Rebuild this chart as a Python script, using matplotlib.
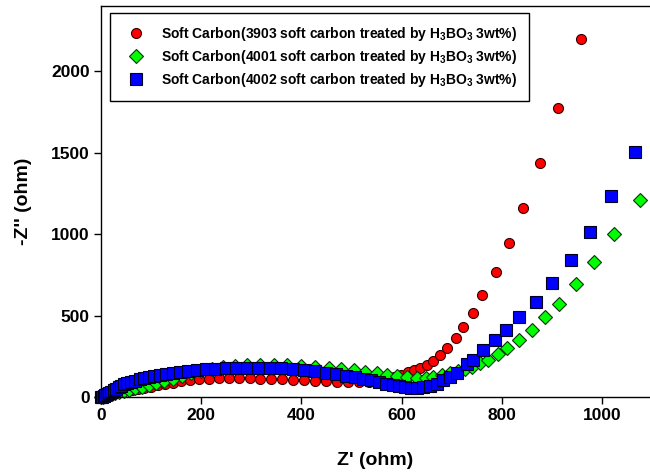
import matplotlib.pyplot as plt

plt.rcParams['font.family'] = ['Liberation Sans', 'DejaVu Sans']
plt.rcParams['mathtext.fontset'] = 'custom'
plt.rcParams['mathtext.rm'] = 'Liberation Sans:bold'
plt.rcParams['mathtext.it'] = 'Liberation Sans:bold'
plt.rcParams['mathtext.bf'] = 'Liberation Sans:bold'

# Z' / -Z'' values (ohm)
x_3903 = [0, 2, 4, 7, 10, 14, 19, 25, 32, 40, 50, 61, 73, 86, 100, 113, 128, 144,
          160, 178, 196, 215, 235, 255, 276, 297, 318, 340, 362, 384, 406, 428,
          450, 472, 494, 515, 535, 553, 570, 585, 598, 612, 625, 637, 650, 663,
          677, 691, 708, 723, 743, 761, 788, 814, 843, 876, 913, 958]
y_3903 = [0, 3, 6, 10, 14, 19, 24, 29, 33, 37, 41, 45, 50, 56, 63, 72, 80, 89,
          97, 104, 109, 112, 114, 115, 115, 114, 113, 111, 109, 107, 103, 100,
          97, 95, 93, 92, 94, 100, 108, 120, 135, 152, 166, 180, 196, 222,
          258, 302, 360, 427, 517, 626, 769, 943, 1162, 1434, 1773, 2196]

x_4001 = [0, 3, 6, 10, 15, 21, 28, 36, 45, 56, 68, 81, 95, 110, 126, 143, 161,
          180, 200, 221, 243, 267, 292, 318, 345, 372, 400, 428, 455, 480, 505,
          528, 550, 571, 590, 610, 630, 648, 663, 680, 697, 713, 727, 740, 756,
          773, 793, 811, 835, 860, 886, 915, 948, 985, 1025, 1076]
y_4001 = [0, 3, 7, 11, 16, 21, 26, 31, 38, 46, 55, 64, 74, 84, 98, 112, 128,
          145, 160, 173, 183, 190, 194, 196, 196, 195, 192, 187, 180, 172, 163,
          154, 146, 138, 130, 123, 119, 119, 122, 133, 145, 158, 172, 187, 206,
          230, 263, 299, 350, 411, 489, 573, 691, 830, 1000, 1210]

x_4002 = [0, 2, 5, 8, 12, 16, 20, 25, 30, 35, 40, 46, 52, 60, 68, 77, 86, 96,
          106, 118, 130, 144, 158, 174, 191, 209, 228, 249, 270, 292, 314, 337,
          360, 383, 406, 428, 450, 470, 489, 507, 524, 540, 555, 569, 582, 594,
          606, 618, 630, 643, 657, 670, 683, 697, 710, 730, 743, 763, 786, 808,
          835, 868, 900, 939, 977, 1019, 1066]
y_4002 = [0, 3, 7, 11, 16, 22, 30, 40, 50, 60, 70, 78, 86, 94, 101, 108, 115,
          121, 127, 133, 139, 145, 151, 158, 164, 169, 174, 178, 180, 181, 181,
          179, 175, 170, 164, 157, 149, 140, 131, 122, 112, 102, 92, 82, 73, 65,
          60, 58, 58, 61, 67, 82, 102, 125, 150, 200, 230, 290, 352, 411, 493,
          585, 697, 840, 1014, 1235, 1501]

labels = [r'Soft Carbon(3903 soft carbon treated by H$_3$BO$_3$ 3wt%)',
          r'Soft Carbon(4001 soft carbon treated by H$_3$BO$_3$ 3wt%)',
          r'Soft Carbon(4002 soft carbon treated by H$_3$BO$_3$ 3wt%)']

fig = plt.figure(figsize=(6.5, 4.72), dpi=100)
ax = fig.add_axes([101 / 650, 75 / 472, 549 / 650, 391 / 472])

ax.plot(x_3903, y_3903, 'o', color='red', markeredgecolor='#300000', markeredgewidth=0.8,
        markersize=7.2, label=labels[0], clip_on=False)
ax.plot(x_4001, y_4001, 'D', color='#00ff00', markeredgecolor='#103010', markeredgewidth=0.8,
        markersize=7.5, label=labels[1], clip_on=False)
ax.plot(x_4002, y_4002, 's', color='blue', markeredgecolor='#000020', markeredgewidth=0.8,
        markersize=8, label=labels[2], clip_on=False)

ax.set_xlim(0, 1096)
ax.set_ylim(0, 2400)
ax.set_xticks([0, 200, 400, 600, 800, 1000])
ax.set_yticks([0, 500, 1000, 1500, 2000])
ax.spines['right'].set_visible(False)
for s in ['top', 'left', 'bottom']:
    ax.spines[s].set_linewidth(1.0)
ax.tick_params(direction='out', length=5, width=1, labelsize=12.5, pad=3)
for t in ax.get_xticklabels() + ax.get_yticklabels():
    t.set_fontweight('bold')

ax.set_xlabel("Z' (ohm)", fontsize=14, fontweight='bold', labelpad=21)
ax.set_ylabel("-Z'' (ohm)", fontsize=14, fontweight='bold', labelpad=14)

leg = ax.legend(loc='upper left', bbox_to_anchor=(9 / 549, 1 - 7 / 391), borderaxespad=0,
                fancybox=False, edgecolor='black', framealpha=1, numpoints=1,
                prop={'size': 10, 'weight': 'bold'}, borderpad=0.85, handlelength=2.1,
                handletextpad=0.75, labelspacing=0.38)
leg.get_frame().set_linewidth(1.0)

fig.savefig('out.png', dpi=100)
